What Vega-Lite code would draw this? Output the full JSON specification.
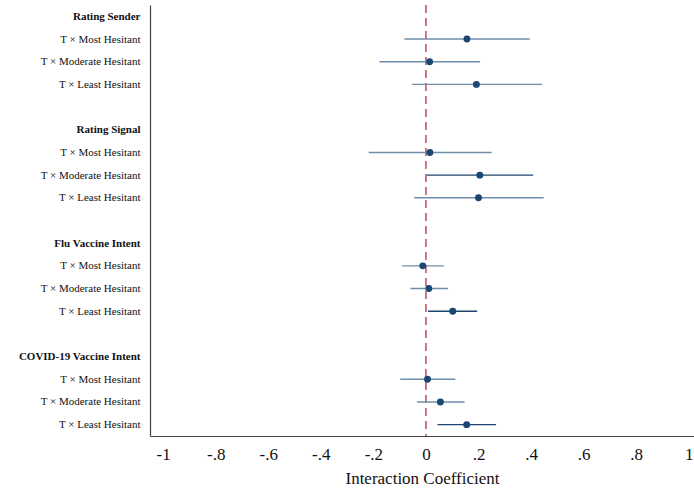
{
  "$schema": "https://vega.github.io/schema/vega-lite/v6.json",
  "width": 544,
  "height": 431,
  "autosize": "none",
  "padding": {"left": 150, "top": 5, "right": 0, "bottom": 60},
  "background": "white",
  "config": {"view": {"stroke": null}, "font": "Liberation Serif"},
  "datasets": {
    "est": [
      {"item": "Rating Sender: T × Most Hesitant", "coef": 0.156, "lo": -0.082, "hi": 0.395},
      {"item": "Rating Sender: T × Moderate Hesitant", "coef": 0.014, "lo": -0.177, "hi": 0.206},
      {"item": "Rating Sender: T × Least Hesitant", "coef": 0.192, "lo": -0.054, "hi": 0.442},
      {"item": "Rating Signal: T × Most Hesitant", "coef": 0.015, "lo": -0.218, "hi": 0.25},
      {"item": "Rating Signal: T × Moderate Hesitant", "coef": 0.205, "lo": 0.003, "hi": 0.408},
      {"item": "Rating Signal: T × Least Hesitant", "coef": 0.2, "lo": -0.045, "hi": 0.448},
      {"item": "Flu Vaccine Intent: T × Most Hesitant", "coef": -0.012, "lo": -0.091, "hi": 0.068},
      {"item": "Flu Vaccine Intent: T × Moderate Hesitant", "coef": 0.011, "lo": -0.059, "hi": 0.084},
      {"item": "Flu Vaccine Intent: T × Least Hesitant", "coef": 0.102, "lo": 0.008, "hi": 0.195},
      {"item": "COVID-19 Vaccine Intent: T × Most Hesitant", "coef": 0.006, "lo": -0.098, "hi": 0.112},
      {"item": "COVID-19 Vaccine Intent: T × Moderate Hesitant", "coef": 0.055, "lo": -0.034, "hi": 0.147},
      {"item": "COVID-19 Vaccine Intent: T × Least Hesitant", "coef": 0.155, "lo": 0.044, "hi": 0.267}
    ],
    "ref": [{"x": 0}]
  },
  "encoding": {
    "y": {
      "field": "item",
      "type": "ordinal",
      "scale": {
        "type": "point",
        "padding": 0.5,
        "domain": [
          "Rating Sender",
          "Rating Sender: T × Most Hesitant",
          "Rating Sender: T × Moderate Hesitant",
          "Rating Sender: T × Least Hesitant",
          "gap1",
          "Rating Signal",
          "Rating Signal: T × Most Hesitant",
          "Rating Signal: T × Moderate Hesitant",
          "Rating Signal: T × Least Hesitant",
          "gap2",
          "Flu Vaccine Intent",
          "Flu Vaccine Intent: T × Most Hesitant",
          "Flu Vaccine Intent: T × Moderate Hesitant",
          "Flu Vaccine Intent: T × Least Hesitant",
          "gap3",
          "COVID-19 Vaccine Intent",
          "COVID-19 Vaccine Intent: T × Most Hesitant",
          "COVID-19 Vaccine Intent: T × Moderate Hesitant",
          "COVID-19 Vaccine Intent: T × Least Hesitant"
        ]
      },
      "axis": {
        "title": null,
        "ticks": false,
        "grid": false,
        "domainColor": "#444444",
        "domainWidth": 1.2,
        "labelPadding": 10,
        "labelFont": "Liberation Serif",
        "labelFontSize": 11,
        "labelColor": "#111111",
        "labelLimit": 200,
        "labelExpr": "indexof(datum.value, 'gap') == 0 ? '' : (indexof(datum.value, ': ') >= 0 ? split(datum.value, ': ')[1] : datum.value)",
        "labelFontWeight": {"condition": {"test": "indexof(datum.value, ': ') < 0", "value": "bold"}, "value": "normal"}
      }
    }
  },
  "layer": [
    {
      "data": {"name": "ref"},
      "mark": {"type": "rule", "color": "#b01e3c", "strokeWidth": 1.2, "strokeDash": [8, 5]},
      "encoding": {
        "x": {"field": "x", "type": "quantitative"},
        "y": null
      }
    },
    {
      "data": {"name": "est"},
      "mark": {"type": "rule", "strokeWidth": 1.4},
      "encoding": {
        "x": {"field": "lo", "type": "quantitative"},
        "x2": {"field": "hi"},
        "color": {"condition": {"test": "datum.lo > 0 || datum.hi < 0", "value": "#1d4670"}, "value": "#6f8eab"}
      }
    },
    {
      "data": {"name": "est"},
      "mark": {"type": "point", "filled": true, "size": 48, "opacity": 1, "color": "#1a4672"},
      "encoding": {
        "x": {
          "field": "coef",
          "type": "quantitative",
          "scale": {"domain": [-1.05, 1.02], "nice": false, "zero": false},
          "axis": {
            "title": "Interaction Coefficient",
            "titleFont": "Liberation Serif",
            "titleFontSize": 17,
            "titleFontWeight": "normal",
            "titleColor": "#111111",
            "titlePadding": 8,
            "values": [-1, -0.8, -0.6, -0.4, -0.2, 0, 0.2, 0.4, 0.6, 0.8, 1],
            "labelExpr": "replace(replace(format(datum.value, '.1~f'), '0.', '.'), '−', '-')",
            "labelFont": "Liberation Serif",
            "labelFontSize": 17,
            "labelColor": "#111111",
            "labelPadding": 10,
            "labelFlush": false,
            "ticks": false,
            "grid": false,
            "domainColor": "#444444",
            "domainWidth": 1.2
          }
        }
      }
    }
  ]
}
